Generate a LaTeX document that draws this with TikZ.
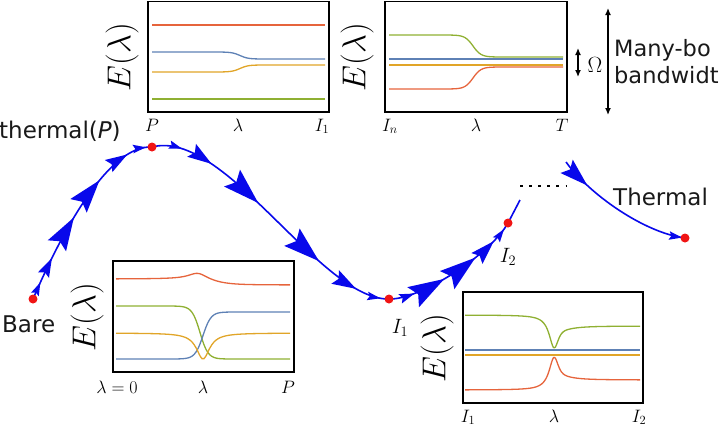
\documentclass[tikz,border=0pt]{standalone}
\usepackage{fontspec}
\setsansfont{DejaVu Sans}
\usetikzlibrary{arrows.meta,decorations.markings,backgrounds}
\definecolor{flowblue}{RGB}{8,8,235}
\definecolor{dotred}{RGB}{240,20,20}
\definecolor{lvblue}{RGB}{94,129,181}
\definecolor{lvorange}{RGB}{225,165,40}
\definecolor{lvgreen}{RGB}{143,176,50}
\definecolor{lvred}{RGB}{230,100,60}
\tikzset{
  panel/.style={draw=black, line width=1.6pt},
  lvl/.style={line width=1.3pt, smooth, samples=90},
  rdot/.style={circle, fill=dotred, inner sep=0pt, minimum size=9pt},
  flow/.style={draw=flowblue, line width=1.6pt},
  hd/.style 2 args={postaction={decorate, decoration={markings, mark=at position #1 with {\arrow{Stealth[length=10pt, width=6.4pt, inset=1.6pt, scale=#2]}}}}},
  sanslbl/.style={font=\sffamily\fontsize{23}{27}\selectfont, inner sep=0pt, text=black!90},
  ylbl/.style={font=\fontsize{24.88}{30}\selectfont, scale=1.33, rotate=90, inner sep=0pt},
  ticklbl/.style={font=\fontsize{17.28}{20}\selectfont, scale=1.04, inner sep=0pt, anchor=base},
  ptlbl/.style={font=\fontsize{20.74}{24}\selectfont, inner sep=0pt, anchor=base},
  dblarrow/.style={line width=1.3pt, {Latex[length=7pt,width=6pt]}-{Latex[length=7pt,width=6pt]}},
  dotrow/.style={line width=2.6pt, dash pattern=on 2.6pt off 6.5pt},
}
\begin{document}
\begin{tikzpicture}[x=1pt,y=-1pt,
  declare function={sg(\t)=tanh(max(-4,min(4,\t))); lz(\t)=1/(1+(\t)*(\t));}]
\useasboundingbox (0,0) rectangle (720,426);

% ---------- Panel A (top left) ----------
\draw[panel] (148,1.5) rectangle (329,112);
\draw[lvl, lvred] (152,25) -- (325,25);
\draw[lvl, lvblue] plot[domain=152:325] (\x,{55.5+3.5*sg((\x-240)/8)});
\draw[lvl, lvorange] plot[domain=152:325] (\x,{68.5-3.5*sg((\x-240)/8)});
\draw[lvl, lvgreen] (152,99) -- (325,99);
\node[ylbl] (eA) at (122,57) {$E(\lambda)$};
\node[ticklbl] (tA1) at (152,131) {$P$};
\node[ticklbl] (tA2) at (238,131) {$\lambda$};
\node[ticklbl] (tA3) at (322,131) {$I_1$};

% ---------- Panel B (top middle) ----------
\draw[panel] (385,1.5) rectangle (567,112);
\draw[lvl, lvgreen] plot[domain=389:563] (\x,{46+11*sg((\x-473)/8)});
\draw[lvl, lvblue] (389,59) -- (563,59);
\draw[lvl, lvorange] (389,65) -- (563,65);
\draw[lvl, lvred] plot[domain=389:563] (\x,{78-11*sg((\x-473)/8)});
\node[ylbl] (eB) at (357,57) {$E(\lambda)$};
\node[ticklbl] (tB1) at (390,131) {$I_n$};
\node[ticklbl] (tB2) at (476,131) {$\lambda$};
\node[ticklbl] (tB3) at (562,131) {$T$};

% ---------- bandwidth arrows ----------
\coordinate (wA) at (578,48);
\coordinate (wB) at (578,77);
\draw[dblarrow] (wA) -- (wB);
\node[ptlbl, scale=1.06] (om) at (595,72) {$\Omega$};
\coordinate (bA) at (608,8);
\coordinate (bB) at (608,115);
\draw[dblarrow] (bA) -- (bB);
\node[sanslbl, font=\sffamily\fontsize{22.5}{27}\selectfont, anchor=base west] (mb1) at (614,56) {Many-bo};
\node[sanslbl, font=\sffamily\fontsize{22.5}{27}\selectfont, anchor=base west] (mb2) at (614,83) {bandwidt};

% ---------- Panel C (bottom left) ----------
\draw[panel] (113,261) rectangle (294,372);
\draw[lvl, lvred] plot[domain=116:290] (\x,{282+3*sg((\x-210)/20)-7*lz((\x-198)/12)});
\draw[lvl, lvgreen] plot[domain=116:290] (\x,{332.5+26.5*sg((\x-200)/8)});
\draw[lvl, lvblue] plot[domain=116:290] (\x,{335.5-23.5*sg((\x-203)/8)});
\draw[lvl, lvorange] plot[domain=116:290] (\x,{333+26*lz((\x-203)/8)});
\node[ylbl] (eC) at (87,317) {$E(\lambda)$};
\node[ticklbl] (tC1) at (117,393) {$\lambda=0$};
\node[ticklbl] (tC2) at (203,393) {$\lambda$};
\node[ticklbl] (tC3) at (288,393) {$P$};

% ---------- Panel D (bottom right) ----------
\draw[panel] (463,292) rectangle (643,403);
\draw[lvl, lvgreen] plot[domain=465:640] (\x,{320.5+5.5*sg((\x-560)/8)+31*lz((\x-554)/6)});
\draw[lvl, lvblue] (465,350) -- (640,350);
\draw[lvl, lvorange] (465,355) -- (640,355);
\draw[lvl, lvred] plot[domain=465:640] (\x,{385-5*sg((\x-560)/8)-31*lz((\x-554)/6)});
\node[ylbl] (eD) at (437,348) {$E(\lambda)$};
\node[ticklbl] (tD1) at (468,422) {$I_1$};
\node[ticklbl] (tD2) at (554,422) {$\lambda$};
\node[ticklbl] (tD3) at (639,422) {$I_2$};

% ---------- flow path ----------
\node[rdot] (bare) at (33,299) {};
\node[rdot] (pP) at (152,147) {};
\node[rdot] (iA) at (389,299) {};
\node[rdot] (iB) at (508,223) {};
\node[rdot] (th) at (685,238) {};
\coordinate (cut) at (520,200);
\coordinate (resume) at (566,162);
\coordinate (dotsL) at (520,186);
\coordinate (dotsR) at (567,186);

\begin{scope}[on background layer]
\draw[flow, hd={0.09}{1.3}, hd={0.225}{1.9}, hd={0.455}{3.3}, hd={0.68}{3.3}, hd={0.87}{2.2}, hd={0.97}{1.3}]
  (bare.center) .. controls (65,225) and (110,145) .. (pP.center);
\draw[flow, hd={0.105}{1.3}, hd={0.22}{2.4}, hd={0.43}{3.6}, hd={0.72}{3.6}, hd={0.88}{2.4}, hd={0.97}{1.3}]
  (pP.center) .. controls (225,128) and (320,300) .. (iA.center);
\draw[flow, hd={0.18}{1.5}, hd={0.41}{3.6}, hd={0.67}{3.6}, hd={0.84}{2.4}, hd={0.95}{1.3}]
  (iA.center) .. controls (420,300) and (490,255) .. (iB.center);
\draw[flow] (iB.center) -- (cut);
\draw[flow, hd={0.22}{2.8}, hd={0.98}{1.3}]
  (resume) .. controls (590,195) and (645,233) .. (th.center);
\end{scope}
\draw[dotrow] (dotsL) -- (dotsR);

% ---------- labels ----------
\node[sanslbl, anchor=base west] (lbare) at (2,332) {Bare};
\node[sanslbl, anchor=base west] (lpre) at (-1,138) {thermal(\textit{P})};
\node[sanslbl, anchor=base west] (lth) at (613,205) {Thermal};
\node[ptlbl] (liA) at (400,333) {$I_1$};
\node[ptlbl] (liB) at (508,262) {$I_2$};
\end{tikzpicture}
\end{document}
